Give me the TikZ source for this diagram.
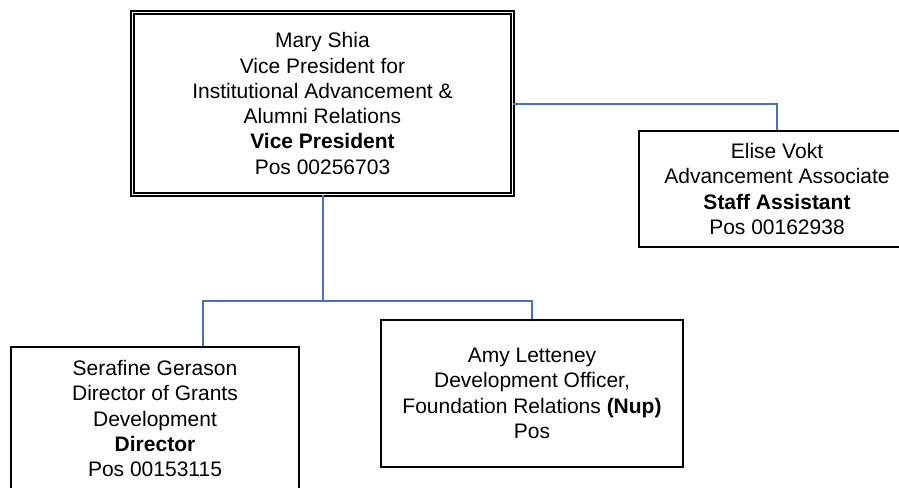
\documentclass[tikz,border=0pt]{standalone}
\usepackage{fontspec}
\setmainfont{Liberation Sans}
\usepackage{xcolor}
\usepackage{tikz}
\usetikzlibrary{positioning,%
  calc
}

\definecolor{linkblue}{HTML}{4472C4}

\begin{document}
\begin{tikzpicture}[x=1pt,y=-1pt,
    person/.style={draw=black, line width=1.7pt, rectangle, align=center, inner sep=0pt,
      font=\fontsize{21}{25.3}\selectfont},
    head/.style={person, double, double distance=1.5pt, line width=1.6pt},
    link/.style={draw=linkblue, line width=2pt}]
            \fill [white] (0,0) rectangle (899,487);
            \clip (0,0) rectangle (899,487);

            % boxes
            \node [head, minimum width=380, minimum height=182] (vp) at (322.5,103.5)
              {Mary Shia\\Vice President for\\Institutional Advancement \&\\Alumni Relations\\\textbf{Vice President}\\Pos 00256703};
            \node [person, minimum width=276, minimum height=116] (vokt) at (777,189)
              {Elise Vokt\\Advancement Associate\\\textbf{Staff Assistant}\\Pos 00162938};
            \node [person, minimum width=288, minimum height=143] (gerason) at (155,418.5)
              {Serafine Gerason\\Director of Grants\\Development\\\textbf{Director}\\Pos 00153115};
            \node [person, minimum width=302, minimum height=147] (letteney) at (532,393.5)
              {Amy Letteney\\Development Officer,\\Foundation Relations \textbf{(Nup)}\\Pos};

            % reporting lines
            \coordinate (split) at (vp.south |- 0,301);
            \draw [link] (vp.east) -| (vokt.north);
            \draw [link] (vp.south) -- (split);
            \draw [link] (split) -| ([xshift=48pt]gerason.north);
            \draw [link] (split) -| (letteney.north);
        \end{tikzpicture}
\end{document}
